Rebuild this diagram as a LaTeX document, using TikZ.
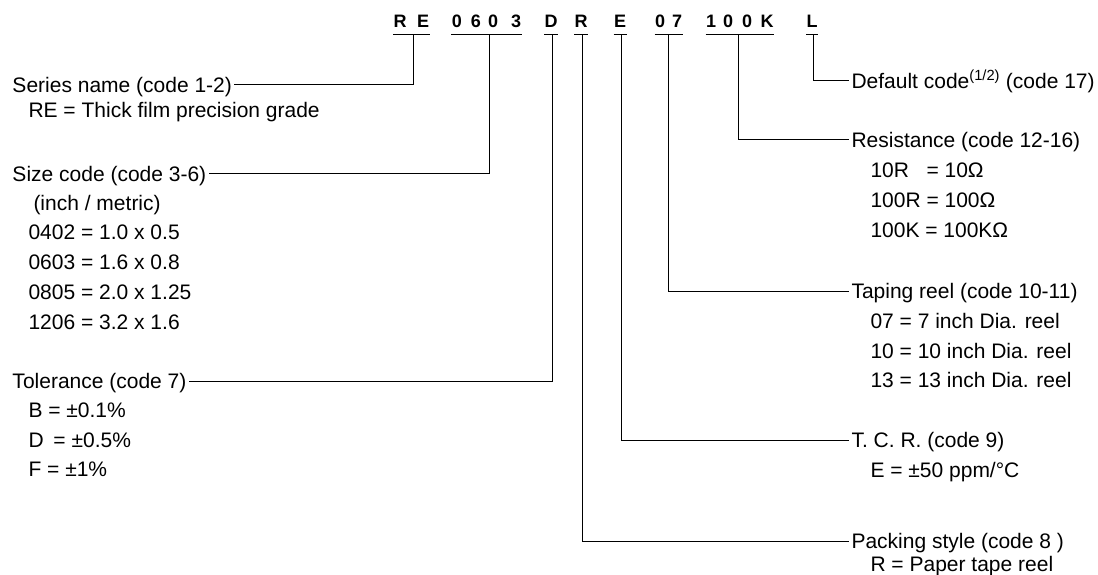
\documentclass[tikz,border=0pt]{standalone}
\usepackage{fontspec}
\setmainfont{Liberation Sans}
\newcommand{\om}{Ω}
\newcommand{\pmsign}{±}

\begin{document}
\begin{tikzpicture}[x=1pt,y=-1pt,line width=1pt]
    \tikzstyle{code}=[font=\fontsize{18}{18}\selectfont\bfseries, inner sep=0pt, anchor=base]
    \tikzstyle{head}=[font=\fontsize{21}{25}\selectfont, inner xsep=2pt, inner ysep=0pt, text height=15pt, text depth=0pt, anchor=west]
    \tikzstyle{entry}=[head]
    \useasboundingbox (0,0) rectangle (1098,575);

    % part number, letter by letter
    \foreach \ch/\x [count=\i] in {R/400,E/423,0/457,6/476,0/493,3/516,D/551,R/581,E/620,0/660,7/677,1/711,0/728,0/747,K/767,L/812}
        \node[code] (c\i) at (\x,28) {\ch};
    \coordinate (ul) at (0,35);
    \draw (c1.west |- ul) -- (c2.east |- ul);
    \draw (c3.west |- ul) -- (c6.east |- ul);
    \draw (c7.west |- ul) -- (c7.east |- ul);
    \draw (c8.west |- ul) -- (c8.east |- ul);
    \draw (c9.west |- ul) -- (c9.east |- ul);
    \draw (c10.west |- ul) -- (c11.east |- ul);
    \draw (c12.west |- ul) -- (c15.east |- ul);
    \draw (c16.west |- ul) -- (c16.east |- ul);
    \coordinate (re) at (413,35);
    \coordinate (sz) at (489,35);
    \coordinate (tol) at (552,35);
    \coordinate (pk) at (582,35);
    \coordinate (tc) at (621,35);
    \coordinate (tp) at (668,35);
    \coordinate (rs) at (738,35);
    \coordinate (df) at (813,35);

    % left side
    \node[head] (series) at (10,85) {Series name (code 1-2)};
    \node[entry] (series1) at (26,110) {RE = Thick film precision grade};
    \node[head] (size) at (10,174) {Size code (code 3-6)};
    \node[entry] (size0) at (31,203) {(inch / metric)};
    \node[entry] (size1) at (26,232) {0402 = 1.0 x 0.5};
    \node[entry] (size2) at (26,262) {0603 = 1.6 x 0.8};
    \node[entry] (size3) at (26,292) {0805 = 2.0 x 1.25};
    \node[entry] (size4) at (26,322) {1206 = 3.2 x 1.6};
    \node[head] (tolerance) at (10,381) {Tolerance (code 7)};
    \node[entry] (tol1) at (26,410) {B = \pmsign0.1\%};
    \node[entry] (tol2) at (26,440) {D\hspace{4pt} = \pmsign0.5\%};
    \node[entry] (tol3) at (26,469) {F = \pmsign1\%};

    % right side
    \node[head] (default) at (849,81) {Default code\textsuperscript{(1/2)} (code 17)};
    \node[head] (resist) at (849,140) {Resistance (code 12-16)};
    \node[entry] (resist1) at (868,170) {\rlap{10R}\phantom{100R} = 10\om};
    \node[entry] (resist2) at (868,200) {100R = 100\om};
    \node[entry] (resist3) at (868,230) {100K = 100K\om};
    \node[head] (taping) at (849,291) {Taping reel (code 10-11)};
    \node[entry] (taping1) at (868,321) {07 = 7 inch Dia. reel};
    \node[entry] (taping2) at (868,351) {10 = 10 inch Dia. reel};
    \node[entry] (taping3) at (868,380) {13 = 13 inch Dia. reel};
    \node[head] (tcr) at (849,440) {T. C. R. (code 9)};
    \node[entry] (tcr1) at (868,470) {E = \pmsign50 ppm/°C};
    \node[head] (packing) at (849,541) {Packing style (code 8 )};
    \node[entry] (packing1) at (868,564) {R = Paper tape reel};

    % leaders
    \draw (re) |- (series.east);
    \draw (sz) |- (size.east);
    \draw (tol) |- (tolerance.east);
    \draw (pk) |- (packing.west);
    \draw (tc) |- (tcr.west);
    \draw (tp) |- (taping.west);
    \draw (rs) |- (resist.west);
    \draw (df) |- (default.west);
\end{tikzpicture}
\end{document}
